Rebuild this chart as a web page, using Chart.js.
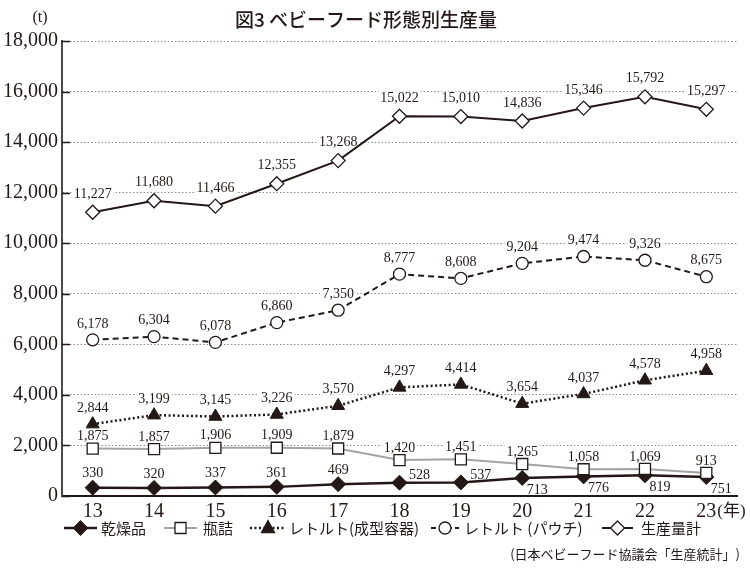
<!DOCTYPE html>
<html>
<head>
<meta charset="utf-8">
<script src="https://cdn.jsdelivr.net/npm/chart.js@4"></script>
<style>
  body { margin: 0; background: #fff; }
  canvas { display: block; }
</style>
</head>
<body>
<canvas id="babyFoodChart" width="750" height="575"></canvas>
<script>
// 年度 (平成)
const years = ['13', '14', '15', '16', '17', '18', '19', '20', '21', '22', '23'];

// 生産量 (t)
const dried = [330, 320, 337, 361, 469, 528, 537, 713, 776, 819, 751];
const bottled = [1875, 1857, 1906, 1909, 1879, 1420, 1451, 1265, 1058, 1069, 913];
const retortTray = [2844, 3199, 3145, 3226, 3570, 4297, 4414, 3654, 4037, 4578, 4958];
const retortPouch = [6178, 6304, 6078, 6860, 7350, 8777, 8608, 9204, 9474, 9326, 8675];
const total = [11227, 11680, 11466, 12355, 13268, 15022, 15010, 14836, 15346, 15792, 15297];

const yTicks = [0, 2000, 4000, 6000, 8000, 10000, 12000, 14000, 16000, 18000];

const INK = '#231815';
const GRAY = '#a3a3a3';
const NUM_FONT = "'Liberation Serif', 'Noto Sans CJK JP', serif";
const JP_FONT = "'Noto Sans CJK JP', sans-serif";

const fmt = v => v.toLocaleString('en-US');

// where each value label goes, relative to its point
function labelOffset(dsIndex, i) {
  if (dsIndex === 0) {
    if (i >= 7) return { dx: 15, dy: 11 };
    if (i >= 5) return { dx: 20, dy: -8 };
    return { dx: 0, dy: -15 };
  }
  if (dsIndex === 1) return { dx: 0, dy: -13 };
  if (dsIndex === 2) return { dx: 0, dy: -17 };
  if (dsIndex === 3) return { dx: 0, dy: -17 };
  return { dx: 0, dy: -19 };
}

function eachLabel(chart, fn) {
  chart.data.datasets.forEach((ds, di) => {
    const meta = chart.getDatasetMeta(di);
    meta.data.forEach((pt, i) => {
      const o = labelOffset(di, i);
      fn(fmt(ds.data[i]), pt.x + o.dx, pt.y + o.dy);
    });
  });
}

const valueLabels = {
  id: 'valueLabels',
  beforeDatasetsDraw(chart) {
    const ctx = chart.ctx;
    ctx.save();
    ctx.font = '14px ' + NUM_FONT;
    ctx.fillStyle = '#fff';
    eachLabel(chart, (txt, x, y) => {
      const w = ctx.measureText(txt).width;
      ctx.fillRect(x - w / 2 - 2, y - 6, w + 4, 12);
    });
    // short solid ticks inside the y axis
    const y = chart.scales.y;
    ctx.strokeStyle = INK;
    ctx.lineWidth = 1.5;
    yTicks.forEach(v => {
      const py = Math.round(y.getPixelForValue(v)) + 0.5;
      ctx.beginPath();
      ctx.moveTo(chart.chartArea.left, py);
      ctx.lineTo(chart.chartArea.left + 8, py);
      ctx.stroke();
    });
    ctx.restore();
  },
  afterDatasetsDraw(chart) {
    const ctx = chart.ctx;
    ctx.save();
    ctx.font = '14px ' + NUM_FONT;
    ctx.fillStyle = INK;
    ctx.textAlign = 'center';
    ctx.textBaseline = 'middle';
    eachLabel(chart, (txt, x, y) => ctx.fillText(txt, x, y + 1));
    ctx.restore();
  }
};

function drawMarker(ctx, style, x, y) {
  ctx.save();
  ctx.lineWidth = 1.3;
  ctx.strokeStyle = INK;
  ctx.beginPath();
  if (style === 'diamondFill' || style === 'diamond') {
    const r = 7;
    ctx.moveTo(x, y - r); ctx.lineTo(x + r, y); ctx.lineTo(x, y + r); ctx.lineTo(x - r, y); ctx.closePath();
    ctx.fillStyle = style === 'diamondFill' ? INK : '#fff';
  } else if (style === 'square') {
    ctx.rect(x - 5.5, y - 5.5, 11, 11);
    ctx.fillStyle = '#fff';
  } else if (style === 'triangle') {
    ctx.moveTo(x, y - 7.5); ctx.lineTo(x + 6.5, y + 4.5); ctx.lineTo(x - 6.5, y + 4.5); ctx.closePath();
    ctx.fillStyle = INK;
  } else {
    ctx.arc(x, y, 6, 0, Math.PI * 2);
    ctx.fillStyle = '#fff';
  }
  ctx.fill();
  ctx.stroke();
  ctx.restore();
}

const legendItems = [
  { text: '乾燥品', marker: 'diamondFill', color: INK, dash: [], width: 2.5, x0: 64, x1: 97, tx: 101 },
  { text: '瓶詰', marker: 'square', color: GRAY, dash: [], width: 2, x0: 164, x1: 197, tx: 203 },
  { text: 'レトルト(成型容器)', marker: 'triangle', color: INK, dash: [2, 2.5], width: 2.5, x0: 250, x1: 286, tx: 289 },
  { text: 'レトルト (パウチ)', marker: 'circle', color: INK, dash: [5, 3], width: 2, x0: 431, x1: 459, tx: 464 },
  { text: '生産量計', marker: 'diamond', color: INK, dash: [], width: 2, x0: 602, x1: 633, tx: 641 }
];

const decorations = {
  id: 'decorations',
  afterDraw(chart) {
    const ctx = chart.ctx;
    ctx.save();
    // title
    ctx.fillStyle = INK;
    ctx.textBaseline = 'middle';
    ctx.textAlign = 'center';
    ctx.font = '500 19px ' + JP_FONT;
    ctx.fillText('図3 ベビーフード形態別生産量', 366, 20);
    // unit
    ctx.font = '16px ' + NUM_FONT;
    ctx.fillText('(t)', 40, 18);
    // year suffix
    const x = chart.scales.x;
    ctx.textAlign = 'left';
    ctx.font = '17px ' + NUM_FONT;
    ctx.fillText('(年)', x.getPixelForValue(years.length - 1) + 11, 512);
    // legend
    const ly = 528;
    legendItems.forEach(it => {
      ctx.save();
      ctx.strokeStyle = it.color;
      ctx.lineWidth = it.width;
      ctx.setLineDash(it.dash);
      ctx.beginPath();
      ctx.moveTo(it.x0, ly);
      ctx.lineTo(it.x1, ly);
      ctx.stroke();
      ctx.restore();
      drawMarker(ctx, it.marker, (it.x0 + it.x1) / 2, ly);
      ctx.fillStyle = INK;
      ctx.font = '15px ' + JP_FONT;
      ctx.textAlign = 'left';
      ctx.fillText(it.text, it.tx, ly);
    });
    // source
    ctx.textAlign = 'right';
    ctx.font = '13px ' + JP_FONT;
    ctx.fillText('(日本ベビーフード協議会「生産統計」)', 740, 554);
    ctx.restore();
  }
};

const ctx = document.getElementById('babyFoodChart').getContext('2d');
new Chart(ctx, {
  type: 'line',
  data: {
    labels: years,
    datasets: [
      {
        label: '乾燥品', data: dried, order: 1,
        borderColor: INK, borderWidth: 2.5,
        pointStyle: 'rectRot', pointRadius: 7.5, pointBackgroundColor: INK, pointBorderColor: INK, pointBorderWidth: 1
      },
      {
        label: '瓶詰', data: bottled, order: 0,
        borderColor: GRAY, borderWidth: 2,
        pointStyle: 'rect', pointRadius: 7.8, pointBackgroundColor: '#fff', pointBorderColor: INK, pointBorderWidth: 1.3
      },
      {
        label: 'レトルト(成型容器)', data: retortTray, order: 2,
        borderColor: INK, borderWidth: 2.5, borderDash: [2, 2.5],
        pointStyle: 'triangle', pointRadius: 7.5, pointBackgroundColor: INK, pointBorderColor: INK, pointBorderWidth: 1
      },
      {
        label: 'レトルト(パウチ)', data: retortPouch, order: 3,
        borderColor: INK, borderWidth: 2, borderDash: [6, 4],
        pointStyle: 'circle', pointRadius: 6, pointBackgroundColor: '#fff', pointBorderColor: INK, pointBorderWidth: 1.3
      },
      {
        label: '生産量計', data: total, order: 4,
        borderColor: INK, borderWidth: 2,
        pointStyle: 'rectRot', pointRadius: 7, pointBackgroundColor: '#fff', pointBorderColor: INK, pointBorderWidth: 1.3
      }
    ]
  },
  options: {
    responsive: false,
    animation: false,
    devicePixelRatio: 1,
    layout: { padding: { top: 41, right: 13, left: 0, bottom: 0 } },
    elements: { line: { tension: 0 } },
    scales: {
      x: {
        offset: true,
        grid: { display: false, drawTicks: false },
        border: { display: true, color: INK, width: 2 },
        ticks: { color: INK, font: { family: NUM_FONT, size: 20 }, padding: 4, maxRotation: 0 },
        afterFit: s => { s.height = 79; }
      },
      y: {
        min: 0,
        max: 18000,
        afterBuildTicks: s => { s.ticks = yTicks.map(v => ({ value: v })); },
        grid: { color: '#8a8a8a', lineWidth: 1, drawTicks: false },
        border: { display: true, color: '#4a4a4a', width: 2, dash: [1.5, 2] },
        ticks: { color: INK, font: { family: NUM_FONT, size: 20 }, padding: 4, callback: v => fmt(v) },
        afterFit: s => { s.width = 62; }
      }
    },
    plugins: {
      legend: { display: false },
      tooltip: { enabled: false }
    }
  },
  plugins: [valueLabels, decorations]
});
</script>
</body>
</html>
